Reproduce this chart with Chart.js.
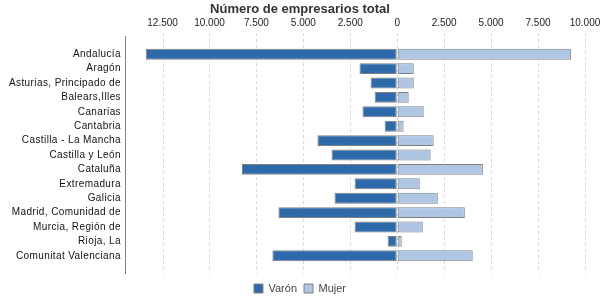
<!DOCTYPE html>
<html>
<head>
<meta charset="utf-8">
<script src="https://cdn.jsdelivr.net/npm/chart.js@4"></script>
<style>
 body { margin: 0; background: #fff; }
 #wrap { width: 600px; height: 300px; }
</style>
</head>
<body>
<div id="wrap"><canvas id="myChart"></canvas></div>
<script>
const regiones = [
  'Andalucía', 'Aragón', 'Asturias, Principado de', 'Balears,Illes', 'Canarias',
  'Cantabria', 'Castilla - La Mancha', 'Castilla y León', 'Cataluña', 'Extremadura',
  'Galicia', 'Madrid, Comunidad de', 'Murcia, Región de', 'Rioja, La', 'Comunitat Valenciana'
];
// varones go to the left, so negative
const varon = [-13390, -2010, -1420, -1200, -1850, -670, -4250, -3500, -8270, -2270, -3340, -6330, -2270, -510, -6650];
const mujer = [9250, 880, 880, 610, 1410, 340, 1940, 1780, 4560, 1200, 2160, 3600, 1360, 240, 4020];
const xTicks = [-12500, -10000, -7500, -5000, -2500, 0, 2500, 5000, 7500, 10000];

const font = '"Liberation Sans", Arial, sans-serif';

// dashed grid lines + axis line, a bit longer than the chart area
const extraLines = {
  id: 'extraLines',
  beforeDatasetsDraw(chart) {
    const ctx = chart.ctx;
    const x = chart.scales.x;
    const area = chart.chartArea;
    ctx.save();
    ctx.lineWidth = 1;
    ctx.strokeStyle = '#d9d9d9';
    ctx.setLineDash([3, 3]);
    x.ticks.forEach(t => {
      const px = Math.round(x.getPixelForValue(t.value)) + 0.5;
      ctx.beginPath();
      ctx.moveTo(px, area.top - 14);
      ctx.lineTo(px, area.bottom + 11);
      ctx.stroke();
    });
    ctx.setLineDash([]);
    ctx.strokeStyle = '#808080';
    const lx = Math.round(area.left) + 0.5;
    ctx.beginPath();
    ctx.moveTo(lx, area.top - 11);
    ctx.lineTo(lx, area.bottom + 11);
    ctx.stroke();
    ctx.restore();
  },
  afterDatasetsDraw(chart) {
    chart.ctx.letterSpacing = '0.4px';
  },
  afterDraw(chart) {
    chart.ctx.letterSpacing = '0px';
  }
};

var ctx = document.getElementById('myChart').getContext('2d');
var myChart = new Chart(ctx, {
    type: 'bar',
    data: {
        labels: regiones,
        datasets: [{
            label: 'Varón',
            data: varon,
            backgroundColor: 'rgb(46, 105, 170)',
            borderColor: '#808080',
            borderWidth: 1,
            borderSkipped: false
        }, {
            label: 'Mujer',
            data: mujer,
            backgroundColor: 'rgb(174, 198, 227)',
            borderColor: '#808080',
            borderWidth: 1,
            borderSkipped: false
        }]
    },
    options: {
        indexAxis: 'y',
        responsive: true,
        maintainAspectRatio: false,
        animation: false,
        layout: { padding: { left: 0, right: 0, top: 0, bottom: -4 } },
        datasets: {
            bar: { categoryPercentage: 1, barPercentage: 0.76 }
        },
        scales: {
            x: {
                position: 'top',
                stacked: true,
                min: -14500,
                max: 10800,
                grid: { display: true, color: 'transparent', drawTicks: true, tickLength: 14 },
                border: { display: false },
                afterBuildTicks: s => { s.ticks = xTicks.map(v => ({ value: v })); },
                ticks: {
                    padding: 4,
                    maxRotation: 0,
                    autoSkip: false,
                    color: '#222',
                    font: { family: font, size: 10 },
                    callback: v => Math.abs(v).toString().replace(/\B(?=(\d{3})+(?!\d))/g, '.')
                },
                afterFit: s => { s.height = 29.4; s.paddingLeft = 0; s.paddingRight = 0; }
            },
            y: {
                stacked: true,
                grid: { display: false, drawTicks: false },
                border: { display: false },
                ticks: {
                    z: 1,
                    padding: 4,
                    autoSkip: false,
                    color: '#111',
                    font: { family: font, size: 10 }
                },
                afterFit: s => { s.width = 125; s.paddingTop = 0; s.paddingBottom = 0; }
            },
            x2: {
                type: 'linear',
                position: 'bottom',
                display: true,
                grid: { display: false, drawTicks: false },
                border: { display: false },
                ticks: { display: false },
                afterFit: s => { s.height = 13; s.paddingLeft = 0; s.paddingRight = 0; }
            }
        },
        plugins: {
            title: {
                display: true,
                text: 'Número de empresarios total',
                color: '#333',
                font: { family: font, size: 13, weight: 'bold' },
                padding: { top: 2, bottom: 0 }
            },
            legend: {
                position: 'bottom',
                labels: {
                    boxWidth: 9,
                    boxHeight: 9,
                    padding: 7,
                    color: '#444',
                    font: { family: font, size: 11 }
                }
            },
            tooltip: { enabled: false }
        }
    },
    plugins: [extraLines]
});
</script>
</body>
</html>
